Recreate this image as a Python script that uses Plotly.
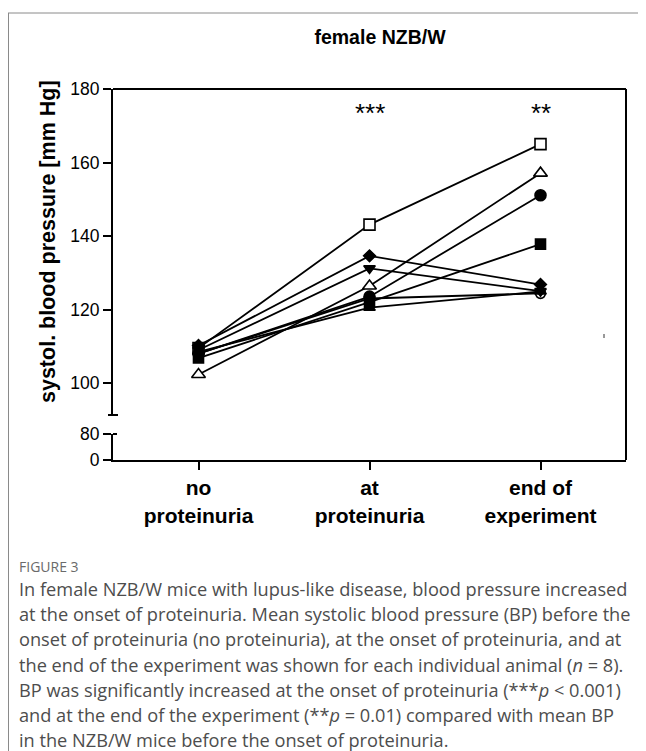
import plotly.graph_objects as go

# ---------------- data ----------------
categories = ["no<br>proteinuria", "at<br>proteinuria", "end of<br>experiment"]
x_idx = [0, 1, 2]

animal_open_square = [109.5, 143.1, 165.0]
animal_open_triangle = [102.3, 126.4, 157.1]
animal_filled_circle = [108.0, 123.5, 151.1]
animal_filled_square = [106.8, 122.0, 137.8]
animal_filled_diamond = [110.2, 134.6, 126.8]
animal_down_triangle = [109.0, 131.2, 125.0]
animal_up_triangle = [108.5, 120.5, 124.9]
animal_open_circle = [108.0, 123.0, 124.4]

upper_ticks = [100, 120, 140, 160, 180]
lower_ticks = [0, 80]
significance = ["", "***", "**"]

title_text = "female NZB/W"
y_title = "systol. blood pressure [mm Hg]"
fig_label = "FIGURE 3"
caption_lines = [
    "In female NZB/W mice with lupus-like disease, blood pressure increased",
    "at the onset of proteinuria. Mean systolic blood pressure (BP) before the",
    "onset of proteinuria (no proteinuria), at the onset of proteinuria, and at",
    "the end of the experiment was shown for each individual animal (<i>n</i> = 8).",
    "BP was significantly increased at the onset of proteinuria (***<i>p</i> < 0.001)",
    "and at the end of the experiment (**<i>p</i> = 0.01) compared with mean BP",
    "in the NZB/W mice before the onset of proteinuria.",
]

# ---------------- layout geometry ----------------
# The page body adds an 8px offset, so the figure is 8px smaller and
# reference pixel positions are shifted by OFF.
OFF = 8
W, H = 646 - OFF, 751 - OFF
PLOT_L, PLOT_R, PLOT_T, PLOT_B = 113, 626, 89, 460   # reference pixels
L = PLOT_L - OFF
T = PLOT_T - OFF
R = W - (PLOT_R - OFF)
B = H - (PLOT_B - OFF)
PW = PLOT_R - PLOT_L
PH = PLOT_B - PLOT_T


def px(x):
    return (x - PLOT_L) / PW


def py(y):
    return (PLOT_B - y) / PH


FONT = "Liberation Sans, Arial, sans-serif"
CAP_FONT = "Open Sans, sans-serif"

# drawing order: open circle first so filled markers cover it where they overlap
series = [
    (animal_open_circle, "circle", "white", 10),
    (animal_open_square, "square", "white", 11),
    (animal_open_triangle, "triangle-up", "white", 12),
    (animal_filled_circle, "circle", "black", 11),
    (animal_filled_square, "square", "black", 10),
    (animal_filled_diamond, "diamond", "black", 9),
    (animal_down_triangle, "triangle-down", "black", 10),
    (animal_up_triangle, "triangle-up", "black", 10),
]

fig = go.Figure()
# empty trace so the lower (0-80) subplot is created
fig.add_trace(go.Scatter(x=[None], y=[None], xaxis="x", yaxis="y",
                         showlegend=False, hoverinfo="skip"))
for vals, sym, fill, size in series:
    fig.add_trace(go.Scatter(
        x=x_idx, y=vals, mode="lines+markers",
        line=dict(color="black", width=1.8),
        marker=dict(symbol=sym, size=size, color=fill,
                    line=dict(color="black", width=1.6)),
        xaxis="x", yaxis="y2", showlegend=False, cliponaxis=False,
    ))

axis_common = dict(showgrid=False, zeroline=False, showline=True,
                   linecolor="black", linewidth=2, ticks="outside",
                   ticklen=8, tickwidth=2, tickcolor="black")

fig.update_layout(
    width=W, height=H,
    margin=dict(l=L, r=R, t=T, b=B, pad=0),
    paper_bgcolor="white", plot_bgcolor="white",
    title=dict(text=f"<b>{title_text}</b>", x=px(380), xref="paper",
               xanchor="center", y=1 - (37 - OFF) / H, yanchor="middle",
               font=dict(family=FONT, size=19.5, color="black")),
    xaxis=dict(domain=[0, 1], anchor="y", range=[-0.5, 2.5],
               tickvals=x_idx, ticktext=[f"<b>{c}</b>" for c in categories],
               tickfont=dict(family=FONT, size=21, color="black"),
               **axis_common),
    yaxis=dict(domain=[0, py(434)], anchor="x", range=[0, 80],
               tickvals=lower_ticks,
               tickfont=dict(family=FONT, size=17.5, color="black"),
               **axis_common),
    yaxis2=dict(domain=[py(415), 1], anchor="x", range=[91.3, 180],
                tickvals=upper_ticks,
                tickfont=dict(family=FONT, size=17.5, color="black"),
                **axis_common),
)

shapes = []
# box top & right
shapes.append(dict(type="line", xref="paper", yref="paper", x0=0, x1=1, y0=1, y1=1,
                   line=dict(color="black", width=2)))
shapes.append(dict(type="line", xref="paper", yref="paper", x0=1, x1=1, y0=0, y1=1,
                   line=dict(color="black", width=2)))
# axis break caps
shapes.append(dict(type="line", xref="paper", yref="paper", x0=px(108), x1=px(118),
                   y0=py(415), y1=py(415), line=dict(color="black", width=2)))
shapes.append(dict(type="line", xref="paper", yref="paper", x0=px(113), x1=px(117),
                   y0=py(434), y1=py(434), line=dict(color="black", width=2)))
# tiny stray mark
shapes.append(dict(type="line", xref="paper", yref="paper", x0=px(604), x1=px(604),
                   y0=py(334), y1=py(338), line=dict(color="#333", width=1)))
# outer figure frame
shapes.append(dict(type="line", xref="paper", yref="paper", x0=px(8), x1=px(646),
                   y0=py(13), y1=py(13), line=dict(color="#8a8a8a", width=1)))
shapes.append(dict(type="line", xref="paper", yref="paper", x0=px(8.5), x1=px(8.5),
                   y0=py(13), y1=py(751), line=dict(color="#8a8a8a", width=1)))
fig.update_layout(shapes=shapes)

ann = []
for xi, s in zip(x_idx, significance):
    if s:
        ann.append(dict(text=s, x=xi, xref="x", y=py(113), yref="paper",
                        showarrow=False, xanchor="center", yanchor="middle",
                        font=dict(family=FONT, size=26, color="black")))
ann.append(dict(text=f"<b>{y_title}</b>", x=px(48), y=py(242), xref="paper",
                yref="paper", textangle=-90, showarrow=False,
                xanchor="center", yanchor="middle",
                font=dict(family=FONT, size=21.5, color="black")))
ann.append(dict(text=fig_label, x=px(17), y=py(566), xref="paper", yref="paper",
                showarrow=False, xanchor="left", yanchor="middle",
                font=dict(family=CAP_FONT, size=14, color="#6a6a6a")))
for i, line in enumerate(caption_lines):
    ann.append(dict(text=line, x=px(17), y=py(589 + i * 25.2), xref="paper",
                    yref="paper", showarrow=False, xanchor="left",
                    yanchor="middle",
                    font=dict(family=CAP_FONT, size=18.2, color="#4d4d4d")))
fig.update_layout(annotations=ann)

fig.write_html("out.html")
